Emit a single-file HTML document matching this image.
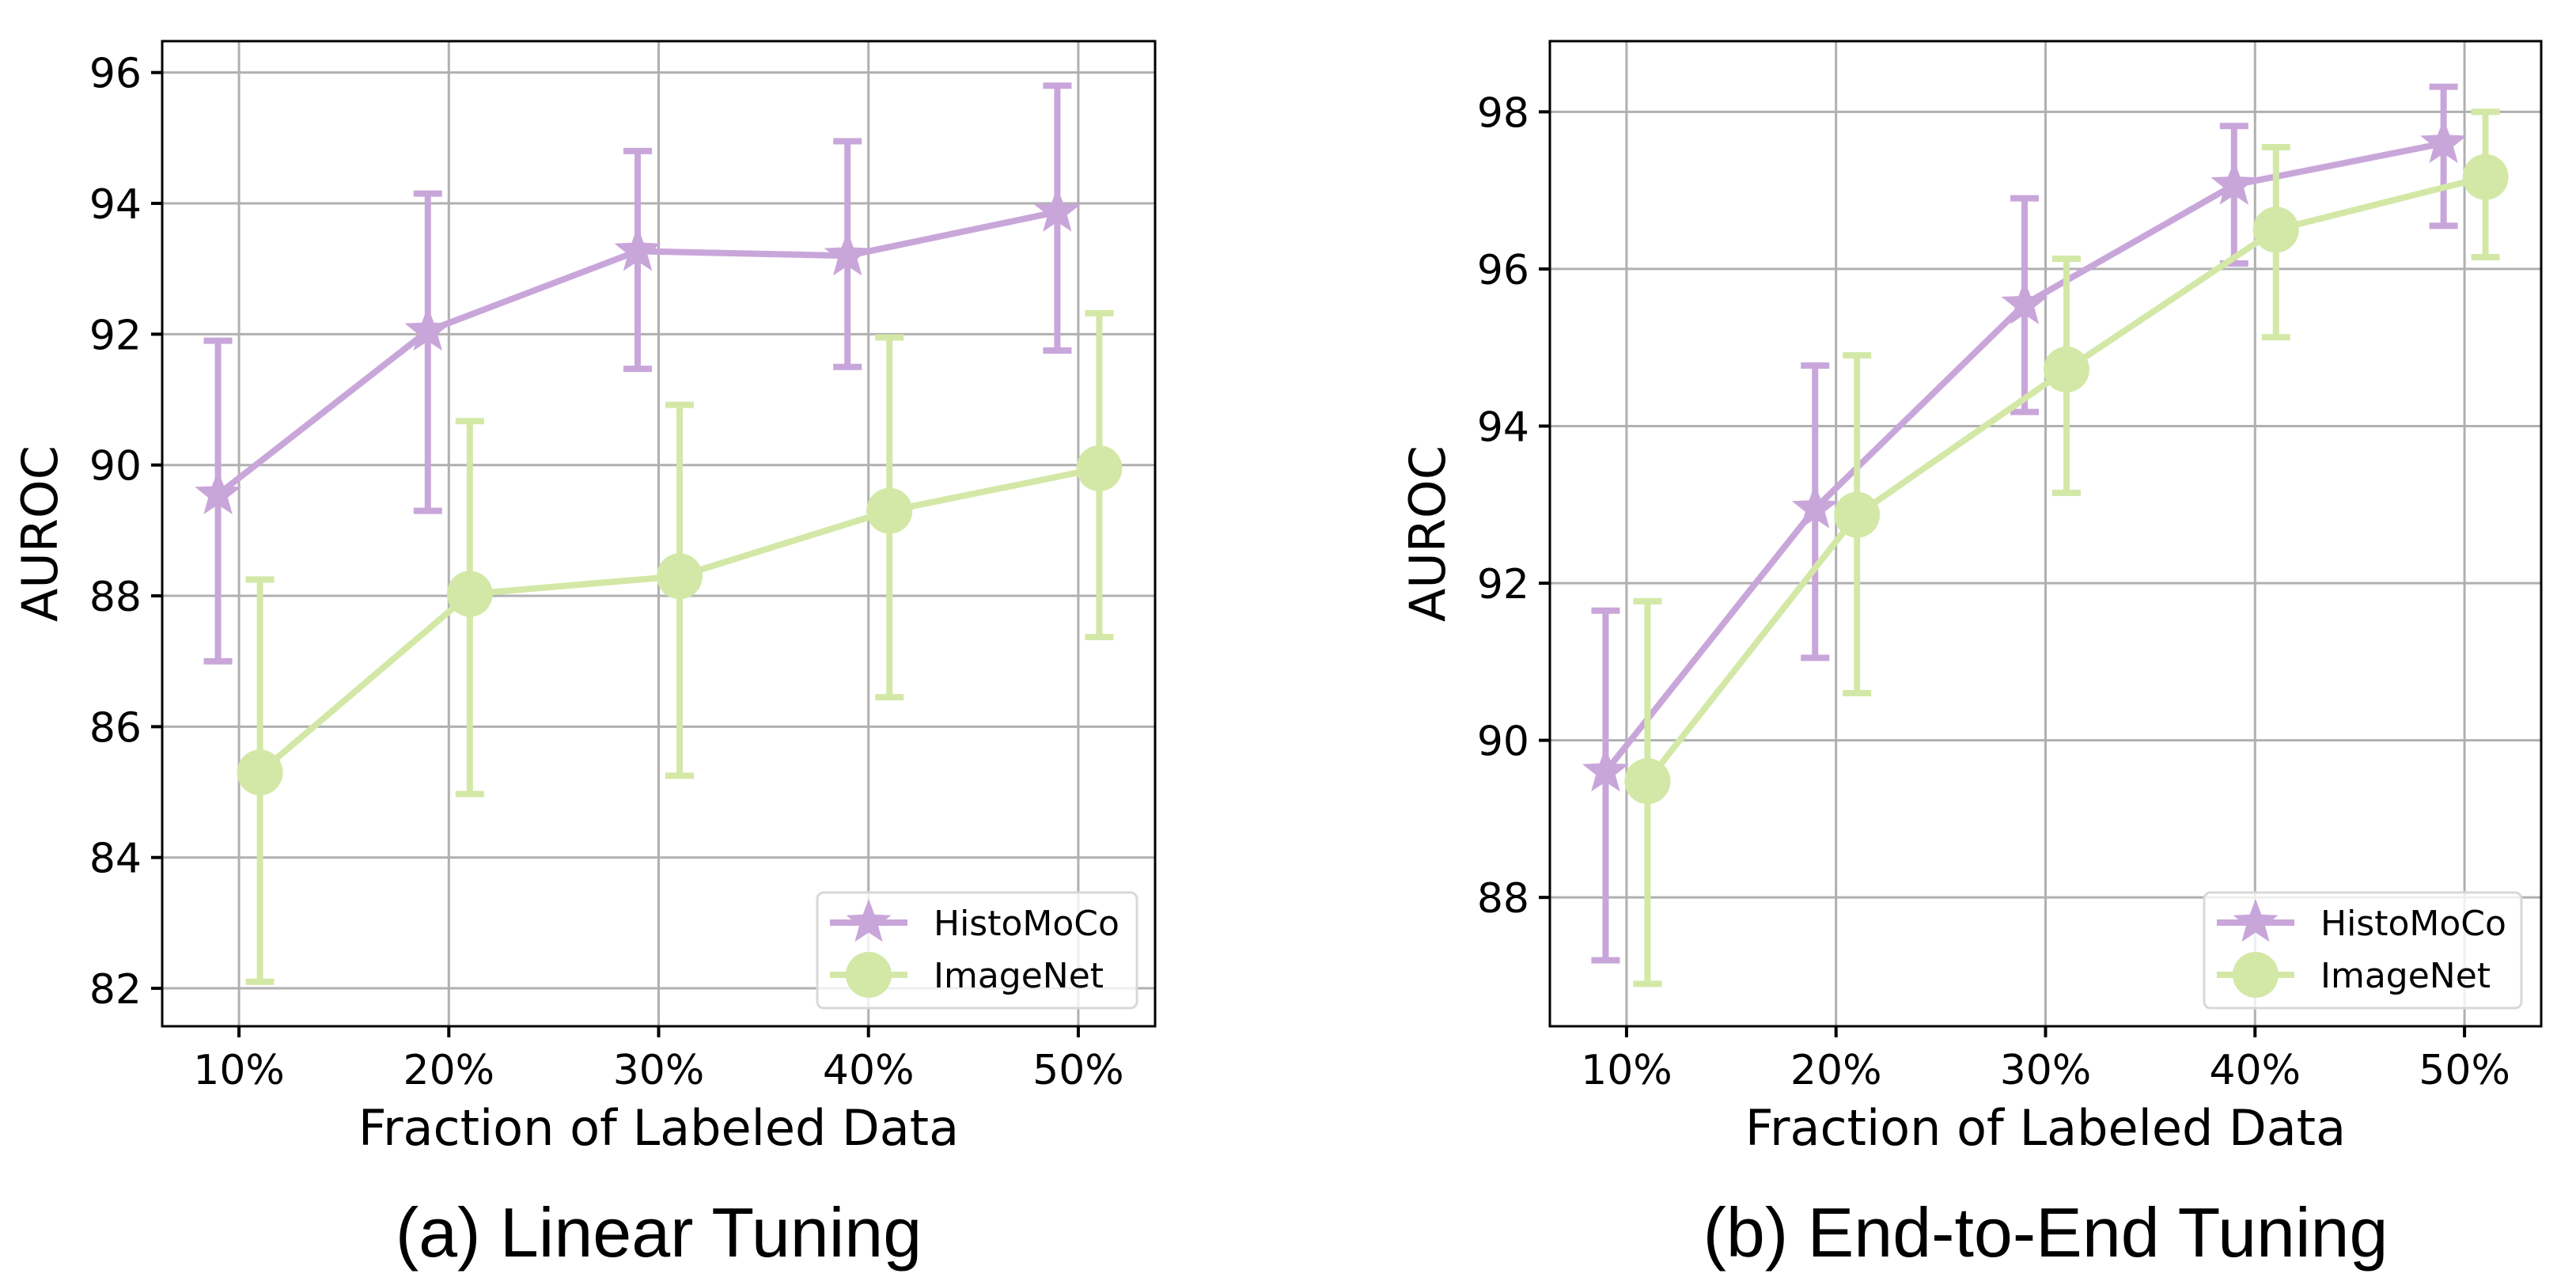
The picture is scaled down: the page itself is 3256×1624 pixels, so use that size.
<!DOCTYPE html>
<html><head><meta charset="utf-8">
<style>
html,body{margin:0;padding:0;background:#fff;}
svg text{font-family:"DejaVu Sans","Liberation Sans",sans-serif;}
</style></head>
<body>
<svg id="fig" width="3256" height="1619" viewBox="0 0 3256 1619" xmlns="http://www.w3.org/2000/svg"></svg>
<script>
const categories = [10, 20, 30, 40, 50];
const tickLabels = ["10%", "20%", "30%", "40%", "50%"];
const seriesNames = ["HistoMoCo", "ImageNet"];
// Linear tuning
const aHisto = [89.55, 92.05, 93.27, 93.2, 93.87];
const aHistoLo = [87.0, 89.3, 91.47, 91.5, 91.75];
const aHistoHi = [91.9, 94.15, 94.8, 94.95, 95.8];
const aImg = [85.3, 88.03, 88.3, 89.3, 89.95];
const aImgLo = [82.1, 84.97, 85.25, 86.45, 87.37];
const aImgHi = [88.25, 90.67, 90.92, 91.95, 92.32];
const aYTicks = [82, 84, 86, 88, 90, 92, 94, 96];
// End-to-end tuning
const bHisto = [89.6, 92.95, 95.55, 97.07, 97.6];
const bHistoLo = [87.2, 91.05, 94.18, 96.07, 96.55];
const bHistoHi = [91.65, 94.77, 96.9, 97.82, 98.32];
const bImg = [89.48, 92.87, 94.72, 96.5, 97.17];
const bImgLo = [86.9, 90.6, 93.15, 95.13, 96.15];
const bImgHi = [91.77, 94.9, 96.13, 97.55, 98.0];
const bYTicks = [88, 90, 92, 94, 96, 98];

const NS = "http://www.w3.org/2000/svg";
const svg = document.getElementById("fig");
const PURPLE = "#c9a6da", GREEN = "#d3e8a6";
function mk(tag, attrs, parent) {
  const e = document.createElementNS(NS, tag);
  for (const k in attrs) e.setAttribute(k, attrs[k]);
  (parent || svg).appendChild(e);
  return e;
}
function starPts(cx, cy, R) {
  const r = R * 0.42; let p = [];
  for (let i = 0; i < 10; i++) {
    const a = -Math.PI / 2 + i * Math.PI / 5;
    const rr = i % 2 ? r : R;
    p.push((cx + rr * Math.cos(a)).toFixed(1) + "," + (cy + rr * Math.sin(a)).toFixed(1));
  }
  return p.join(" ");
}
function panel(cfg) {
  const g = mk("g", {});
  
  
  const {L, R, T, B, xmin, xmax, ymin, ymax} = cfg;
  const X = v => L + (v - xmin) / (xmax - xmin) * (R - L);
  const Y = v => B - (v - ymin) / (ymax - ymin) * (B - T);
  categories.forEach((c, i) => {
    const l = mk("line", {x1: X(c), x2: X(c), y1: T, y2: B, stroke: "#b0b0b0", "stroke-width": 3}, g);
    
    
    const tk = mk("line", {x1: X(c), x2: X(c), y1: B, y2: B + 14, stroke: "#000", "stroke-width": 4}, g);
    
    
    const t = mk("text", {x: X(c), y: B + 73, "font-size": 52, "text-anchor": "middle"}, g);
    t.textContent = tickLabels[i];
    
    
  });
  cfg.yticks.forEach(v => {
    const l = mk("line", {x1: L, x2: R, y1: Y(v), y2: Y(v), stroke: "#b0b0b0", "stroke-width": 3}, g);
    
    
    const tk = mk("line", {x1: L - 14, x2: L, y1: Y(v), y2: Y(v), stroke: "#000", "stroke-width": 4}, g);
    
    
    const t = mk("text", {x: L - 26, y: Y(v) + 19, "font-size": 52, "text-anchor": "end"}, g);
    t.textContent = String(v);
    
    
  });
  const series = [
    {vals: cfg.h, lo: cfg.hLo, hi: cfg.hHi, off: -1, col: PURPLE, mark: "star", name: "histomoco"},
    {vals: cfg.m, lo: cfg.mLo, hi: cfg.mHi, off: 1, col: GREEN, mark: "circle", name: "imagenet"}
  ];
  series.forEach(s => {
    const pts = categories.map((c, i) => X(c + s.off).toFixed(1) + "," + Y(s.vals[i]).toFixed(1)).join(" ");
    const pl = mk("polyline", {points: pts, fill: "none", stroke: s.col, "stroke-width": 8, "stroke-linejoin": "round"}, g);
    
    
    categories.forEach((c, i) => {
      const x = X(c + s.off);
      const eb = mk("path", {d: `M${x},${Y(s.lo[i])}V${Y(s.hi[i])}M${x-18},${Y(s.lo[i])}H${x+18}M${x-18},${Y(s.hi[i])}H${x+18}`, stroke: s.col, "stroke-width": 8, fill: "none"}, g);
      
      
      let m;
      if (s.mark === "star") m = mk("polygon", {points: starPts(x, Y(s.vals[i]), 31), fill: s.col}, g);
      else m = mk("circle", {cx: x, cy: Y(s.vals[i]), r: 29, fill: s.col}, g);
      
      
    });
  });
  const fr = mk("rect", {x: L, y: T, width: R - L, height: B - T, fill: "none", stroke: "#000", "stroke-width": 3}, g);
  
  
  const xl = mk("text", {x: (L + R) / 2, y: B + 150, "font-size": 62, "text-anchor": "middle"}, g);
  xl.textContent = "Fraction of Labeled Data";
  
  
  const yl = mk("text", {x: 0, y: 0, "font-size": 62, "text-anchor": "middle", transform: `translate(${cfg.ylx},${(T + B) / 2}) rotate(-90)`}, g);
  yl.textContent = "AUROC";
  
  
  const cap = mk("text", {x: (L + R) / 2, y: 1588, "font-size": 88, "text-anchor": "middle", style: 'font-family:"Liberation Sans",sans-serif'}, g);
  cap.textContent = cfg.caption;
  
  
  const lg = mk("g", {}, g);
  
  
  const lx = cfg.legX, ly = 1128;
  mk("rect", {x: lx, y: ly, width: cfg.legW, height: 146, rx: 8, fill: "rgba(255,255,255,0.8)", stroke: "#d8d8d8", "stroke-width": 3}, lg);
  series.forEach((s, k) => {
    const cy = ly + 38 + k * 66, cx = lx + 65;
    mk("line", {x1: lx + 16, x2: lx + 114, y1: cy, y2: cy, stroke: s.col, "stroke-width": 8}, lg);
    if (s.mark === "star") mk("polygon", {points: starPts(cx, cy, 30), fill: s.col}, lg);
    else mk("circle", {cx: cx, cy: cy, r: 29, fill: s.col}, lg);
    const t = mk("text", {x: lx + 147, y: cy + 16, "font-size": 44}, lg);
    t.textContent = seriesNames[k];
    
    
  });
}
panel({name: "linear-tuning-chart", L: 205, R: 1460, T: 52, B: 1297, xmin: 6.34, xmax: 53.66, ymin: 81.42, ymax: 96.48,
  yticks: aYTicks, h: aHisto, hLo: aHistoLo, hHi: aHistoHi, m: aImg, mLo: aImgLo, mHi: aImgHi,
  ylx: 72, caption: "(a) Linear Tuning", legX: 1033, legW: 404});
panel({name: "end-to-end-tuning-chart", L: 1959, R: 3212, T: 52, B: 1297, xmin: 6.34, xmax: 53.66, ymin: 86.36, ymax: 98.9,
  yticks: bYTicks, h: bHisto, hLo: bHistoLo, hHi: bHistoHi, m: bImg, mLo: bImgLo, mHi: bImgHi,
  ylx: 1826, caption: "(b) End-to-End Tuning", legX: 2786, legW: 401});
</script>
</body></html>
